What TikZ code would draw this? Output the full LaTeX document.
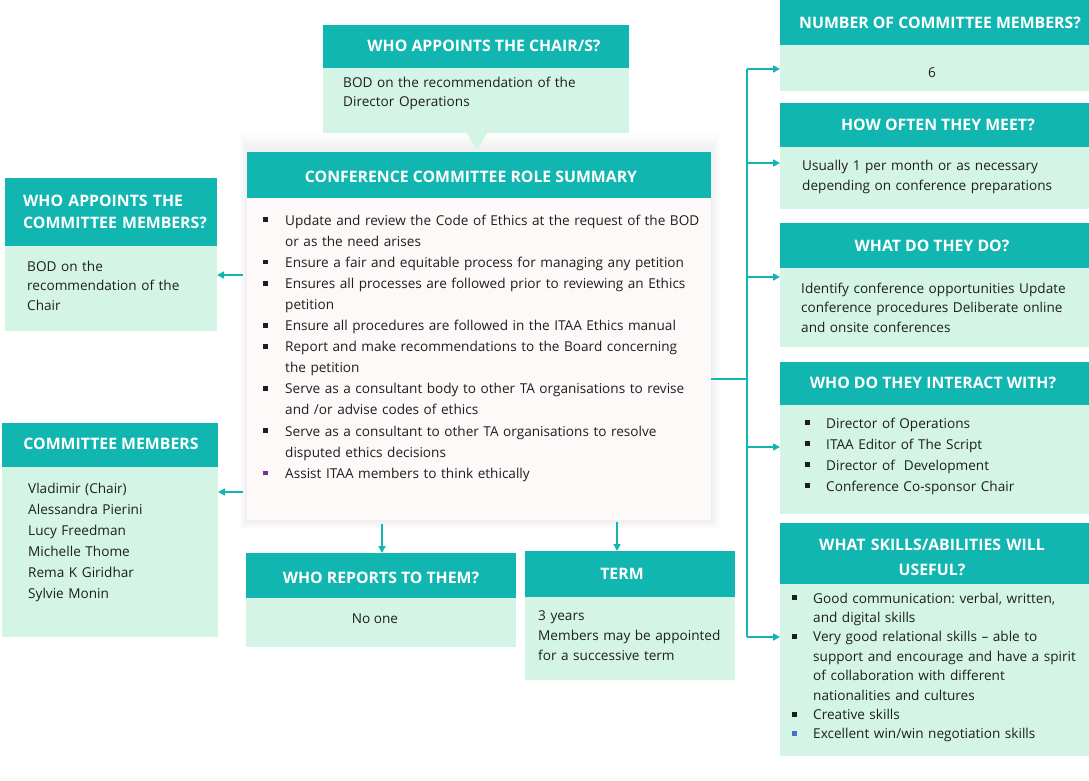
\documentclass[tikz,border=0pt]{standalone}
\usepackage{fontspec}
\setmainfont{Open Sans}
\usetikzlibrary{arrows.meta}
\definecolor{tealh}{HTML}{12B6B0}
\definecolor{lgreen}{HTML}{D4F5E6}
\definecolor{mbody}{HTML}{FDF9F8}
\definecolor{txt}{HTML}{1E1E1E}
\definecolor{bpurple}{HTML}{7030A0}
\definecolor{bblue}{HTML}{4472C4}
\frenchspacing
\newcommand\bsq[1][txt]{\makebox[22pt][l]{\textcolor{#1}{\rule[2.8pt]{4.8pt}{4.8pt}}}}
\newcommand\bsqr[1][txt]{\makebox[21pt][l]{\textcolor{#1}{\rule[2.8pt]{4.8pt}{4.8pt}}}}
\newcommand\cnt{\hspace*{22pt}}
\newcommand\cntr{\hspace*{21pt}}
\begin{document}
\begin{tikzpicture}[x=1pt,y=-1pt,
  hdr/.style={fill=tealh, inner sep=0, outer sep=0, anchor=north west, draw=none},
  bdy/.style={fill=lgreen, inner sep=0, outer sep=0, anchor=north west, draw=none},
  htx/.style={text=white, font=\fontsize{15.8}{24}\bfseries\selectfont, inner sep=0, anchor=base},
  btx/.style={text=txt, inner sep=0, anchor=base west, align=left, text width=#1},
  btx/.default=300pt,
  arr/.style={draw=tealh, line width=1.6pt, -{Triangle[length=7pt,width=7pt]}},
  ln/.style={draw=tealh, line width=1.6pt}]
\useasboundingbox (0,0) rectangle (1089,781);
\fill[white] (0,0) rectangle (1089,781);

% ---------- main box shadow ----------
\foreach \i in {1,...,16}
  \fill[black, opacity=0.005] (247-\i*0.5,151-\i*1.1) rectangle (711+\i*0.6,521+\i*0.5);

% ---------- top callout ----------
\node[hdr, minimum width=306pt, minimum height=43pt] (csH) at (323,25) {};
\node[bdy, minimum width=306pt, minimum height=65pt] (csB) at (323,68) {};
\fill[lgreen] (466,132) -- (488,132) -- (477,150) -- cycle;
\node[htx] (csT) at (484,52) {WHO APPOINTS THE CHAIR/S?};
\node[btx, font=\fontsize{13.6}{19}\selectfont] (csX) at (343,88)
  {BOD on the recommendation of the\\Director Operations};

% ---------- main box ----------
\node[hdr, minimum width=464pt, minimum height=46pt] (mainH) at (247,152) {};
\node[bdy, fill=mbody, minimum width=464pt, minimum height=322pt] (mainB) at (247,198) {};
\node[htx] (mainT) at (471,182) {CONFERENCE COMMITTEE ROLE SUMMARY};
\node[btx=450pt, font=\fontsize{13.6}{21.1}\selectfont] (mainX) at (263,225)
  {\bsq Update and review the Code of Ethics at the request of the BOD\\
   \cnt or as the need arises\\
   \bsq Ensure a fair and equitable process for managing any petition\\
   \bsq Ensures all processes are followed prior to reviewing an Ethics\\
   \cnt petition\\
   \bsq Ensure all procedures are followed in the ITAA Ethics manual\\
   \bsq Report and make recommendations to the Board concerning\\
   \cnt the petition\\
   \bsq Serve as a consultant body to other TA organisations to revise\\
   \cnt and /or advise codes of ethics\\
   \bsq Serve as a consultant to other TA organisations to resolve\\
   \cnt disputed ethics decisions\\
   \bsq[bpurple]Assist ITAA members to think ethically};

% ---------- left: who appoints members ----------
\node[hdr, minimum width=212pt, minimum height=68pt] (laH) at (5,178) {};
\node[bdy, minimum width=212pt, minimum height=85pt] (laB) at (5,246) {};
\node[htx, anchor=base west, align=left, font=\fontsize{15.8}{22}\bfseries\selectfont, text width=200pt] (laT) at (23,206)
  {WHO APPOINTS THE\\COMMITTEE MEMBERS?};
\node[btx=185pt, font=\fontsize{13.6}{19.5}\selectfont] (laX) at (27,271)
  {BOD on the\\recommendation of the\\Chair};

% ---------- left: committee members ----------
\node[hdr, minimum width=216pt, minimum height=44pt] (lmH) at (2,423) {};
\node[bdy, minimum width=216pt, minimum height=170pt] (lmB) at (2,467) {};
\node[htx] (lmT) at (111,449) {COMMITTEE MEMBERS};
\node[btx=185pt, font=\fontsize{13.6}{21}\selectfont] (lmX) at (28,493)
  {Vladimir (Chair)\\Alessandra Pierini\\Lucy Freedman\\Michelle Thome\\Rema K Giridhar\\Sylvie Monin};

% ---------- bottom: who reports ----------
\node[hdr, minimum width=270pt, minimum height=45pt] (rpH) at (246,553) {};
\node[bdy, minimum width=270pt, minimum height=49pt] (rpB) at (246,598) {};
\node[htx] (rpT) at (381,583) {WHO REPORTS TO THEM?};
\node[text=txt, inner sep=0, anchor=base, font=\fontsize{13.6}{19}\selectfont] (rpX) at (375,623) {No one};

% ---------- bottom: term ----------
\node[hdr, minimum width=210pt, minimum height=46pt] (tmH) at (525,551) {};
\node[bdy, minimum width=210pt, minimum height=83pt] (tmB) at (525,597) {};
\node[htx] (tmT) at (622,579) {TERM};
\node[btx=195pt, font=\fontsize{13.6}{20}\selectfont] (tmX) at (538,620)
  {3 years\\Members may be appointed\\for a successive term};

% ---------- right column ----------
\node[hdr, minimum width=309pt, minimum height=45pt] (r1H) at (780,0) {};
\node[bdy, minimum width=309pt, minimum height=46pt] (r1B) at (780,45) {};
\node[htx] (r1T) at (940,29) {NUMBER OF COMMITTEE MEMBERS?};
\node[text=txt, inner sep=0, anchor=base, font=\fontsize{13.6}{19}\selectfont] (r1X) at (932,78) {6};

\node[hdr, minimum width=309pt, minimum height=44pt] (r2H) at (780,103) {};
\node[bdy, minimum width=309pt, minimum height=62pt] (r2B) at (780,147) {};
\node[htx] (r2T) at (938,131) {HOW OFTEN THEY MEET?};
\node[btx=285pt, font=\fontsize{13.6}{20}\selectfont] (r2X) at (802,170)
  {Usually 1 per month or as necessary\\depending on conference preparations};

\node[hdr, minimum width=309pt, minimum height=45pt] (r3H) at (780,223) {};
\node[bdy, minimum width=309pt, minimum height=79pt] (r3B) at (780,268) {};
\node[htx] (r3T) at (932,251) {WHAT DO THEY DO?};
\node[btx=285pt, font=\fontsize{13.6}{19.7}\selectfont] (r3X) at (801,293)
  {Identify conference opportunities Update\\conference procedures Deliberate online\\and onsite conferences};

\node[hdr, minimum width=309pt, minimum height=43pt] (r4H) at (780,362) {};
\node[bdy, minimum width=309pt, minimum height=109pt] (r4B) at (780,405) {};
\node[htx] (r4T) at (933,388) {WHO DO THEY INTERACT WITH?};
\node[btx=280pt, font=\fontsize{13.6}{21}\selectfont] (r4X) at (805,428)
  {\bsqr Director of Operations\\
   \bsqr ITAA Editor of The Script\\
   \bsqr Director of~ Development\\
   \bsqr Conference Co-sponsor Chair};

\node[hdr, minimum width=309pt, minimum height=61pt] (r5H) at (780,523) {};
\node[bdy, minimum width=309pt, minimum height=172pt] (r5B) at (780,584) {};
\node[htx, align=center, text width=300pt, font=\fontsize{15.8}{25}\bfseries\selectfont] (r5T) at (932,550)
  {WHAT SKILLS/ABILITIES WILL\\USEFUL?};
\node[btx=295pt, font=\fontsize{13.6}{19.4}\selectfont] (r5X) at (792,603)
  {\bsqr Good communication: verbal, written,\\
   \cntr and digital skills\\
   \bsqr Very good relational skills -- able to\\
   \cntr support and encourage and have a spirit\\
   \cntr of collaboration with different\\
   \cntr nationalities and cultures\\
   \bsqr Creative skills\\
   \bsqr[bblue]Excellent win/win negotiation skills};

% ---------- connectors ----------
\coordinate (l1) at (243,275);
\coordinate (l2) at (243,492);
\draw[arr] (l1) -- (laB.east |- l1);
\draw[arr] (l2) -- (lmB.east |- l2);

\coordinate (d1) at (382,524);
\coordinate (d2) at (617,522);
\draw[arr] (d1) -- (d1 |- rpH.north);
\draw[arr] (d2) -- (d2 |- tmH.north);

\coordinate (bus) at (747,379);
\coordinate (bt) at (747,69);
\coordinate (b2) at (747,163);
\coordinate (b3) at (747,277);
\coordinate (b4) at (747,447);
\coordinate (bb) at (747,637);
\draw[ln] (mainB.east |- bus) -- (bus);
\draw[ln] (bt) -- (bb);
\draw[arr] (bt) -- (r1B.west |- bt);
\draw[arr] (b2) -- (r2B.west |- b2);
\draw[arr] (b3) -- (r3B.west |- b3);
\draw[arr] (b4) -- (r4B.west |- b4);
\draw[arr] (bb) -- (r5B.west |- bb);
\end{tikzpicture}
\end{document}
